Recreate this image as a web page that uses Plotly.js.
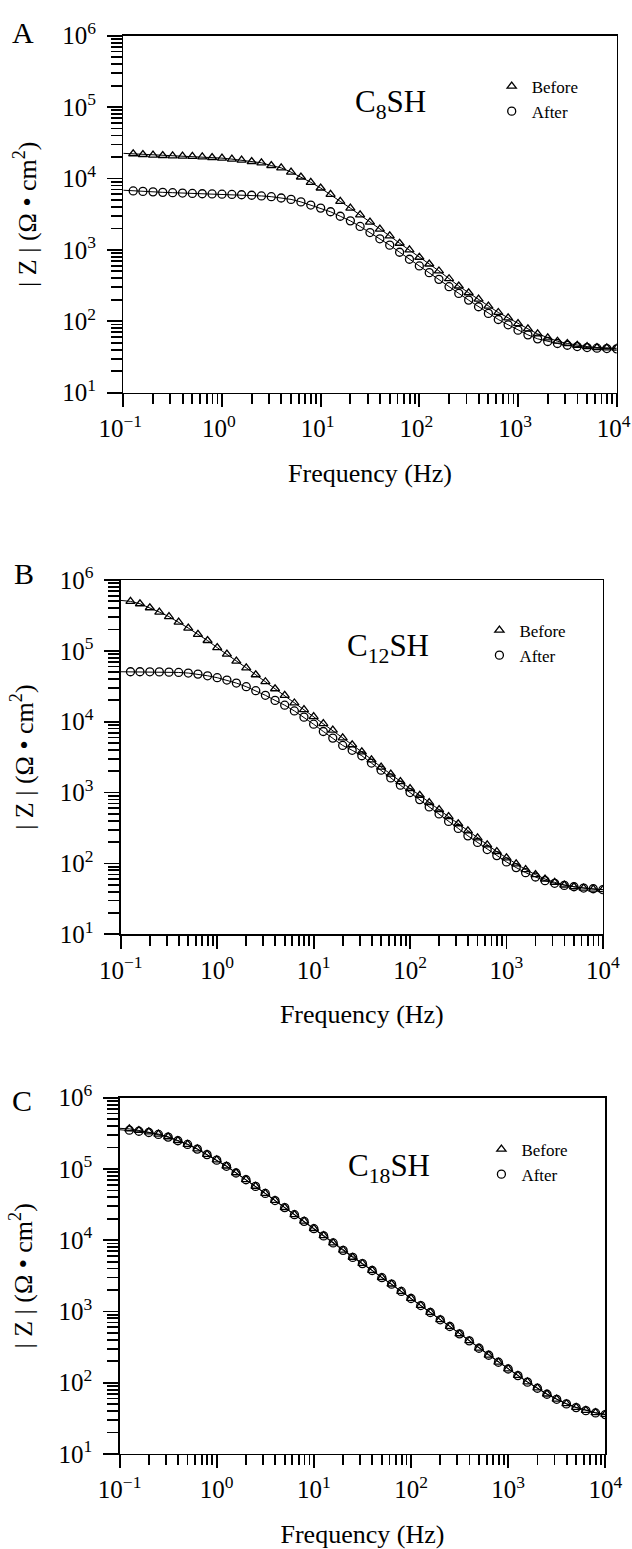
<!DOCTYPE html>
<html><head><meta charset="utf-8">
<script src="https://cdn.plot.ly/plotly-3.0.1.min.js"></script>
<style>html,body{margin:0;padding:0;background:#fff}#chart{width:632px;height:1549px}</style>
</head><body><div id="chart"></div>
<script>
// ---------------- data ----------------
const freq = [0.126, 0.158, 0.2, 0.251, 0.316, 0.398, 0.501, 0.631, 0.794, 1,
  1.26, 1.58, 2, 2.51, 3.16, 3.98, 5.01, 6.31, 7.94, 10,
  12.6, 15.8, 20, 25.1, 31.6, 39.8, 50.1, 63.1, 79.4, 100,
  126, 158, 200, 251, 316, 398, 501, 631, 794, 1000,
  1260, 1580, 2000, 2510, 3160, 3980, 5010, 6310, 7940, 10000];

const aBefore = [22200, 21700, 21300, 21000, 20800, 20600, 20400, 20100, 19700, 19300,
  18700, 18100, 17300, 16600, 15200, 14100, 12300, 10500, 8850, 7360,
  6000, 4780, 3850, 3100, 2450, 1950, 1570, 1240, 1000, 789,
  635, 507, 395, 312, 251, 205, 163, 133, 112, 93,
  78.5, 66.7, 58.6, 52.6, 48.9, 46.2, 44.3, 42.9, 42.5, 42.0];
const aAfter = [6700, 6600, 6500, 6400, 6330, 6250, 6180, 6120, 6080, 6030,
  5980, 5920, 5830, 5700, 5560, 5330, 5100, 4700, 4250, 3850,
  3420, 2960, 2550, 2130, 1750, 1430, 1165, 927, 740, 596,
  480, 387, 305, 246, 198, 160, 129, 106, 89.3, 75.2,
  64.6, 56.8, 52.1, 48.9, 46.2, 44.3, 42.9, 42.0, 41.5, 41.1];

const bBefore = [499000, 462000, 406000, 353000, 304000, 255000, 210000, 171000, 140000, 111000,
  89800, 71600, 57700, 46000, 36700, 29200, 23600, 18400, 14800, 11800,
  9430, 7600, 5930, 4730, 3750, 2900, 2290, 1820, 1430, 1140,
  917, 721, 574, 457, 363, 289, 230, 183, 147, 120,
  98.4, 81.8, 69.5, 60.3, 54.1, 49.6, 46.9, 44.9, 43.4, 42.6];
const bAfter = [50700, 50700, 50600, 50500, 50100, 49600, 48600, 47000, 44500, 41800,
  38700, 35100, 31200, 27400, 23600, 20000, 17100, 14200, 11600, 9220,
  7280, 5870, 4630, 3950, 3310, 2610, 2070, 1610, 1270, 1000,
  796, 627, 499, 392, 312, 245, 198, 157, 129, 105,
  87.3, 74.1, 64.4, 57.2, 52.4, 49.0, 46.9, 44.9, 43.9, 42.6];

const cBefore = [365000, 347000, 331000, 309000, 283000, 251000, 222000, 191000, 160000, 134000,
  110000, 88500, 71000, 57200, 45500, 36200, 28800, 22900, 18500, 14600,
  11600, 9200, 7240, 5770, 4720, 3780, 3000, 2430, 1920, 1530,
  1215, 972, 767, 618, 487, 389, 306, 244, 195, 157,
  127, 103, 84.5, 69.5, 59.0, 50.8, 45.1, 40.9, 38.0, 36.0];
const cAfter = [350000, 338000, 325000, 305000, 280000, 249000, 221000, 190000, 159000, 133000,
  109000, 87800, 70600, 56900, 45300, 36000, 28700, 22800, 18400, 14500,
  11500, 9160, 7210, 5740, 4700, 3760, 2980, 2420, 1910, 1520,
  1210, 968, 764, 615, 485, 387, 305, 243, 194, 156,
  126, 102, 83.7, 68.9, 58.6, 50.5, 44.8, 40.6, 37.7, 35.7];

// fitted curve value at the 0.1 Hz axis edge (fit line starts at the axis)
const fitStartFreq = 0.1;
const fitStartBefore = [22500, 515000, 372000];
const fitStartAfter = [6850, 50700, 355000];

const panelLetters = ['A', 'B', 'C'];
const panelNames = ['C<sub>8</sub>SH', 'C<sub>12</sub>SH', 'C<sub>18</sub>SH'];
const seriesNames = ['Before', 'After'];

const xTickVals = [0.1, 1, 10, 100, 1000, 10000];
const xTickText = ['10<sup>\u22121</sup>', '10<sup>0</sup>', '10<sup>1</sup>', '10<sup>2</sup>', '10<sup>3</sup>', '10<sup>4</sup>'];
const yTickVals = [10, 100, 1000, 10000, 100000, 1000000];
const yTickText = ['10<sup>1</sup>', '10<sup>2</sup>', '10<sup>3</sup>', '10<sup>4</sup>', '10<sup>5</sup>', '10<sup>6</sup>'];

// ---------------- layout geometry (pixels) ----------------
const W = 632, H = 1549;
const FONT = 'Liberation Serif, Times New Roman, serif';
const geom = [
  {box: [123.3, 616.7, 35.7, 392.7], legend: [511.7, 88], name: [390, 104], letter: [22.5, 32], xshift: -3},
  {box: [120.8, 602.9, 580.0, 934.3], legend: [499.4, 632], name: [388, 648], letter: [24, 574], xshift: 0},
  {box: [119.6, 605.3, 1097.7, 1454.0], legend: [501.4, 1151], name: [389, 1168], letter: [22, 1100], xshift: 0}
];
const px = x => x / W;
const py = y => 1 - y / H;

function minorVals(lo, hi) {
  const v = [];
  for (let e = lo; e < hi; e++) for (let m = 2; m <= 9; m++) v.push(m * Math.pow(10, e));
  return v;
}
const minorX = minorVals(-1, 4);
const minorY = minorVals(1, 6);

const black = '#000';
const traces = [];
const layout = {
  width: W, height: H,
  margin: {l: 0, r: 0, t: 0, b: 0},
  paper_bgcolor: '#fff', plot_bgcolor: '#fff',
  font: {family: FONT, color: black},
  showlegend: true,
  annotations: []
};

const allBefore = [aBefore, bBefore, cBefore];
const allAfter = [aAfter, bAfter, cAfter];

for (let i = 0; i < 3; i++) {
  const g = geom[i];
  const sfx = i === 0 ? '' : String(i + 1);
  const xa = 'x' + sfx, ya = 'y' + sfx;
  const leg = 'legend' + sfx;
  const series = [allBefore[i], allAfter[i]];
  const starts = [fitStartBefore[i], fitStartAfter[i]];
  const symbols = ['triangle-up-open', 'circle-open'];
  // fit lines
  for (let s = 0; s < 2; s++) {
    traces.push({
      x: [fitStartFreq].concat(freq), y: [starts[s]].concat(series[s]),
      xaxis: xa, yaxis: ya, mode: 'lines', type: 'scatter',
      line: {color: black, width: 1}, showlegend: false, hoverinfo: 'skip'
    });
  }
  // markers
  for (let s = 0; s < 2; s++) {
    traces.push({
      x: freq, y: series[s], xaxis: xa, yaxis: ya, mode: 'markers', type: 'scatter',
      name: seriesNames[s], legend: leg,
      marker: {symbol: symbols[s], size: 8, color: black, line: {color: black, width: 1.3}}
    });
  }

  const [x0, x1, y0, y1] = g.box;
  layout['xaxis' + sfx] = {
    type: 'log', domain: [px(x0), px(x1)], anchor: ya, range: [-1, 4],
    tickmode: 'array', tickvals: xTickVals, ticktext: xTickText,
    ticks: 'outside', ticklen: 13, tickwidth: 1.8, tickcolor: black,
    showline: true, linewidth: 1.4, linecolor: black, mirror: true,
    showgrid: false, zeroline: false, ticklabeloverflow: 'allow',
    ticklabelshift: g.xshift,
    tickfont: {family: FONT, size: 25, color: black},
    minor: {tickmode: 'array', tickvals: minorX, ticks: 'outside', ticklen: 10, tickwidth: 1.8, tickcolor: black, showgrid: false},
    title: {text: 'Frequency (Hz)', font: {family: FONT, size: 26, color: black}, standoff: 22},
    fixedrange: true
  };
  layout['yaxis' + sfx] = {
    type: 'log', domain: [py(y1), py(y0)], anchor: xa, range: [1, 6],
    tickmode: 'array', tickvals: yTickVals, ticktext: yTickText,
    ticks: 'outside', ticklen: 15, tickwidth: 1.8, tickcolor: black,
    showline: true, linewidth: 1.4, linecolor: black, mirror: true,
    showgrid: false, zeroline: false, ticklabeloverflow: 'allow',
    tickfont: {family: FONT, size: 25, color: black},
    ticklabelstandoff: 6,
    minor: {tickmode: 'array', tickvals: minorY, ticks: 'outside', ticklen: 11, tickwidth: 1.8, tickcolor: black, showgrid: false},
    title: {text: '| Z | (\u03A9 \u2022 cm<sup>2</sup>)', font: {family: FONT, size: 26, color: black}, standoff: 18},
    fixedrange: true
  };
  layout[leg] = {
    x: px(g.legend[0] - 20), y: py(g.legend[1] - 19.5), xanchor: 'left', yanchor: 'top',
    bgcolor: 'rgba(0,0,0,0)', borderwidth: 0, tracegroupgap: 0,
    font: {family: FONT, size: 17, color: black}
  };
  layout.annotations.push({
    text: panelNames[i], xref: 'paper', yref: 'paper', x: px(g.name[0]), y: py(g.name[1]),
    xanchor: 'center', yanchor: 'middle', showarrow: false,
    font: {family: FONT, size: 31, color: black}
  });
  layout.annotations.push({
    text: panelLetters[i], xref: 'paper', yref: 'paper', x: px(g.letter[0]), y: py(g.letter[1]),
    xanchor: 'center', yanchor: 'middle', showarrow: false,
    font: {family: FONT, size: 30, color: black}
  });
}

Plotly.newPlot('chart', traces, layout, {displayModeBar: false, staticPlot: true});
</script>
</body></html>
